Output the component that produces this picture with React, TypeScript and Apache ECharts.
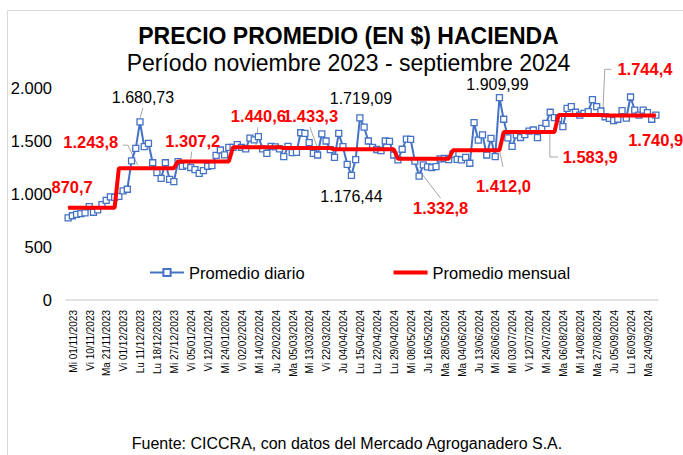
import React, { useEffect, useRef } from 'react';
import * as echarts from 'echarts';

const TITLE = 'PRECIO PROMEDIO (EN $) HACIENDA';
const SUBTITLE = 'Período noviembre 2023 - septiembre 2024';
const SOURCE = 'Fuente: CICCRA, con datos del Mercado Agroganadero S.A.';
const SERIES_DAILY = 'Promedio diario';
const SERIES_MONTHLY = 'Promedio mensual';

const dates: string[] = [
  'Mi 01/11/2023', 'Ju 02/11/2023', 'Lu 06/11/2023', 'Mi 08/11/2023', 'Vi 10/11/2023', 'Lu 13/11/2023', 'Mi 15/11/2023', 'Vi 17/11/2023',
  'Ma 21/11/2023', 'Ju 23/11/2023', 'Lu 27/11/2023', 'Mi 29/11/2023', 'Vi 01/12/2023', 'Lu 04/12/2023', 'Mi 06/12/2023', 'Ju 07/12/2023',
  'Lu 11/12/2023', 'Ma 12/12/2023', 'Mi 13/12/2023', 'Vi 15/12/2023', 'Lu 18/12/2023', 'Mi 20/12/2023', 'Vi 22/12/2023', 'Ma 26/12/2023',
  'Mi 27/12/2023', 'Ju 28/12/2023', 'Ma 02/01/2024', 'Mi 03/01/2024', 'Vi 05/01/2024', 'Lu 08/01/2024', 'Mi 10/01/2024', 'Ju 11/01/2024',
  'Vi 12/01/2024', 'Ma 16/01/2024', 'Ju 18/01/2024', 'Lu 22/01/2024', 'Mi 24/01/2024', 'Vi 26/01/2024', 'Ma 30/01/2024', 'Ju 01/02/2024',
  'Vi 02/02/2024', 'Ma 06/02/2024', 'Ju 08/02/2024', 'Vi 09/02/2024', 'Mi 14/02/2024', 'Vi 16/02/2024', 'Lu 19/02/2024', 'Mi 21/02/2024',
  'Ju 22/02/2024', 'Lu 26/02/2024', 'Mi 28/02/2024', 'Vi 01/03/2024', 'Ma 05/03/2024', 'Ju 07/03/2024', 'Vi 08/03/2024', 'Lu 11/03/2024',
  'Mi 13/03/2024', 'Vi 15/03/2024', 'Ma 19/03/2024', 'Ju 21/03/2024', 'Vi 22/03/2024', 'Ma 26/03/2024', 'Mi 27/03/2024', 'Mi 03/04/2024',
  'Ju 04/04/2024', 'Lu 08/04/2024', 'Mi 10/04/2024', 'Vi 12/04/2024', 'Lu 15/04/2024', 'Ma 16/04/2024', 'Mi 17/04/2024', 'Vi 19/04/2024',
  'Lu 22/04/2024', 'Ma 23/04/2024', 'Mi 24/04/2024', 'Vi 26/04/2024', 'Lu 29/04/2024', 'Ma 30/04/2024', 'Vi 03/05/2024', 'Lu 06/05/2024',
  'Mi 08/05/2024', 'Ju 09/05/2024', 'Lu 13/05/2024', 'Ma 14/05/2024', 'Ju 16/05/2024', 'Lu 20/05/2024', 'Mi 22/05/2024', 'Vi 24/05/2024',
  'Ma 28/05/2024', 'Mi 29/05/2024', 'Ju 30/05/2024', 'Lu 03/06/2024', 'Ma 04/06/2024', 'Mi 05/06/2024', 'Vi 07/06/2024', 'Ma 11/06/2024',
  'Ju 13/06/2024', 'Vi 14/06/2024', 'Ma 18/06/2024', 'Lu 24/06/2024', 'Mi 26/06/2024', 'Ju 27/06/2024', 'Vi 28/06/2024', 'Lu 01/07/2024',
  'Mi 03/07/2024', 'Ju 04/07/2024', 'Lu 08/07/2024', 'Mi 10/07/2024', 'Vi 12/07/2024', 'Ma 16/07/2024', 'Ju 18/07/2024', 'Lu 22/07/2024',
  'Mi 24/07/2024', 'Ju 25/07/2024', 'Lu 29/07/2024', 'Mi 31/07/2024', 'Ma 06/08/2024', 'Mi 07/08/2024', 'Vi 09/08/2024', 'Lu 12/08/2024',
  'Mi 14/08/2024', 'Vi 16/08/2024', 'Mi 21/08/2024', 'Vi 23/08/2024', 'Ma 27/08/2024', 'Mi 28/08/2024', 'Vi 30/08/2024', 'Ma 03/09/2024',
  'Ju 05/09/2024', 'Lu 09/09/2024', 'Mi 11/09/2024', 'Vi 13/09/2024', 'Lu 16/09/2024', 'Ma 17/09/2024', 'Ju 19/09/2024', 'Lu 23/09/2024',
  'Ma 24/09/2024', 'Mi 25/09/2024', 'Ju 26/09/2024', 'Vi 27/09/2024',
];

const dailyAvg: number[] = [
  // nov
  775, 795, 808, 815, 822, 880, 828, 850, 900, 940, 972, 968,
  // dic
  978, 1030, 1045, 1312, 1430, 1680.73, 1446, 1478, 1295, 1201, 1148, 1295, 1138, 1116,
  // ene
  1305, 1260, 1272, 1250, 1230, 1195, 1220, 1262, 1268, 1365, 1415, 1370, 1440,
  // feb
  1440, 1465, 1440, 1425, 1528, 1510, 1541, 1425, 1384, 1450, 1445, 1425,
  // mar
  1352, 1450, 1390, 1393, 1578, 1572, 1484, 1384, 1368, 1568, 1500, 1418,
  // abr
  1345, 1572, 1446, 1280, 1176.44, 1325, 1719.09, 1630, 1500, 1440, 1420, 1410, 1500, 1497, 1368,
  // may
  1321, 1422, 1518, 1516, 1310, 1168, 1274, 1255, 1250, 1258, 1332, 1335, 1325,
  // jun
  1375, 1327, 1321, 1346, 1290, 1673, 1509, 1557, 1368, 1525, 1352, 1909.99,
  // jul
  1705, 1530, 1450, 1557, 1533, 1560, 1594, 1604, 1531, 1620, 1667, 1771, 1720,
  // ago
  1714, 1635, 1808, 1824, 1771, 1745, 1760, 1777, 1890, 1824, 1783,
  // sep
  1729, 1714, 1692, 1705, 1786, 1715, 1915, 1792, 1745, 1792, 1767, 1705, 1745,
];

const monthKeys: string[] = ['11/2023', '12/2023', '01/2024', '02/2024', '03/2024', '04/2024', '05/2024', '06/2024', '07/2024', '08/2024', '09/2024'];
const monthlyAvg: number[] = [870.7, 1243.8, 1307.2, 1440.6, 1433.3, 1422.0, 1332.8, 1412.0, 1583.9, 1744.4, 1740.9];
const monthlyLabelShown: boolean[] = [true, true, true, true, true, false, true, true, true, true, true];

// days whose daily value is annotated (extremes)
const dailyLabelDays: string[] = ['Ma 12/12/2023', 'Vi 12/04/2024', 'Ma 16/04/2024', 'Vi 28/06/2024'];

const BLUE = '#4472C4';
const RED = '#FF0000';
const LEADER = '#A6A6A6';
const FONT = '"Liberation Sans", Arial, Helvetica, sans-serif';

// label placement (layout only): [dx, dy]
const DAILY_LABEL_LAYOUT: Record<string, [number, number]> = {
  'Ma 12/12/2023': [3, -24],
  'Vi 12/04/2024': [0, 21],
  'Ma 16/04/2024': [1, -19],
  'Vi 28/06/2024': [-2, -13],
};
// anchor day + [dx, dy] for each month label
const MONTHLY_LABEL_LAYOUT: Record<string, [string, number, number]> = {
  '11/2023': ['Mi 01/11/2023', 4, -21],
  '12/2023': ['Lu 11/12/2023', -45, -26],
  '01/2024': ['Lu 08/01/2024', 2, -20],
  '02/2024': ['Vi 16/02/2024', 0, -31],
  '03/2024': ['Ju 21/03/2024', -7, -32],
  '05/2024': ['Ju 09/05/2024', 30, 49],
  '06/2024': ['Vi 28/06/2024', 4, 36],
  '07/2024': ['Lu 29/07/2024', 40, 25],
  '08/2024': ['Vi 30/08/2024', 44, -46],
  '09/2024': ['Ju 26/09/2024', 4, 25],
};
// leader lines: series, anchor day, polyline offsets from the anchor point
const LEADERS: { series: 'daily' | 'monthly'; day: string; pts: number[][] }[] = [
  { series: 'daily', day: 'Ma 12/12/2023', pts: [[3, -14], [0, -4]] },
  { series: 'monthly', day: 'Lu 11/12/2023', pts: [[-13, -23], [-8, -23], [2, -3]] },
  { series: 'monthly', day: 'Lu 08/01/2024', pts: [[1, -10], [0, -2]] },
  { series: 'monthly', day: 'Vi 16/02/2024', pts: [[-0.5, -20], [-2.5, -2]] },
  { series: 'monthly', day: 'Ju 21/03/2024', pts: [[-7.7, -21], [-0.7, -2]] },
  { series: 'monthly', day: 'Ju 09/05/2024', pts: [[1, 2], [30, 39.5]] },
  { series: 'monthly', day: 'Vi 28/06/2024', pts: [[3.5, 16.5], [0.5, 2]] },
  { series: 'monthly', day: 'Lu 29/07/2024', pts: [[7.7, 24.9], [-0.3, 24.9], [-0.3, 2]] },
  { series: 'monthly', day: 'Vi 30/08/2024', pts: [[10.6, -45.8], [3.9, -45.8], [1.9, -2]] },
  { series: 'monthly', day: 'Ju 26/09/2024', pts: [[4.2, 6.2], [-1.8, 1.2]] },
];

function fmtEs(v: number, dec: number): string {
  const fixed = v.toFixed(dec);
  const parts = fixed.split('.');
  const intPart = parts[0].replace(/\B(?=(\d{3})+(?!\d))/g, '.');
  return parts.length > 1 ? intPart + ',' + parts[1] : intPart;
}

function monthlyValueOf(day: string): number {
  return monthlyAvg[monthKeys.indexOf(day.slice(-7))];
}

const BASE_GRAPHIC: any[] = [
  {
    type: 'rect',
    silent: true,
    z: -10,
    shape: { x: 7.5, y: 10.5, width: 720, height: 500 },
    style: { fill: 'none', stroke: '#D9D9D9', lineWidth: 1 },
  },
  {
    type: 'text',
    x: 348.5,
    y: 36,
    style: {
      text: TITLE,
      fill: '#000',
      font: `bold 23px ${FONT}`,
      textAlign: 'center',
      textVerticalAlign: 'middle',
    },
  },
  {
    type: 'text',
    x: 348.5,
    y: 63,
    style: {
      text: SUBTITLE,
      fill: '#000',
      font: `23px ${FONT}`,
      textAlign: 'center',
      textVerticalAlign: 'middle',
    },
  },
  {
    type: 'text',
    x: 347,
    y: 443,
    style: {
      text: SOURCE,
      fill: '#000',
      font: `16px ${FONT}`,
      textAlign: 'center',
      textVerticalAlign: 'middle',
    },
  },
];

function buildOption(): any {
  const dailyData = dailyAvg.map((v, i) => {
    const d = dates[i];
    if (dailyLabelDays.indexOf(d) < 0) return v;
    return {
      value: v,
      label: {
        show: true,
        position: 'inside',
        formatter: fmtEs(v, 2),
        color: '#000',
        fontSize: 16,
        fontFamily: FONT,
        textBorderWidth: 0,
      },
    };
  });

  const monthlyData = dates.map((d) => {
    const key = d.slice(-7);
    const m = monthKeys.indexOf(key);
    const v = monthlyAvg[m];
    const lay = MONTHLY_LABEL_LAYOUT[key];
    if (!monthlyLabelShown[m] || !lay || lay[0] !== d) return v;
    return {
      value: v,
      label: {
        show: true,
        position: 'inside',
        formatter: fmtEs(v, 1),
        color: RED,
        fontSize: 16.5,
        fontWeight: 'bold',
        fontFamily: FONT,
        textBorderWidth: 0,
      },
    };
  });

  return {
    animation: false,
    backgroundColor: '#fff',
    textStyle: { fontFamily: FONT },
    graphic: BASE_GRAPHIC,
    legend: {
      data: [
        { name: SERIES_DAILY },
        { name: SERIES_MONTHLY, icon: 'path://M0,0L34,0L34,4L0,4Z', itemStyle: { color: RED } },
      ],
      left: 149,
      top: 264,
      padding: 0,
      itemGap: 89,
      itemWidth: 34,
      itemHeight: 9,
      textStyle: { fontSize: 16.5, color: '#000', fontFamily: FONT },
    },
    grid: { left: 66, right: 25, top: 88, bottom: 155, containLabel: false },
    xAxis: {
      type: 'category',
      data: dates,
      boundaryGap: true,
      axisTick: { show: false },
      axisLine: { lineStyle: { color: '#D9D9D9', width: 1.5 } },
      axisLabel: {
        interval: 3,
        rotate: 90,
        fontSize: 10,
        color: '#000',
        fontFamily: FONT,
        margin: 10,
        verticalAlign: 'top',
      },
    },
    yAxis: {
      type: 'value',
      min: 0,
      max: 2000,
      interval: 500,
      axisLine: { show: false },
      axisTick: { show: false },
      splitLine: { show: false },
      axisLabel: {
        formatter: (v: number) => fmtEs(v, 0),
        fontSize: 16.5,
        color: '#000',
        fontFamily: FONT,
        margin: 14,
      },
    },
    series: [
      {
        name: SERIES_DAILY,
        type: 'line',
        data: dailyData,
        symbol: 'rect',
        symbolSize: 6,
        showAllSymbol: true,
        lineStyle: { color: BLUE, width: 2 },
        itemStyle: { color: '#fff', borderColor: BLUE, borderWidth: 1.3 },
        label: { show: false },
        labelLayout: (p: any) => {
          const lay = DAILY_LABEL_LAYOUT[dates[p.dataIndex]];
          return lay && dailyLabelDays.indexOf(dates[p.dataIndex]) >= 0 ? { dx: lay[0], dy: lay[1] } : {};
        },
        z: 2,
      },
      {
        name: SERIES_MONTHLY,
        type: 'line',
        data: monthlyData,
        symbol: 'circle',
        symbolSize: 1,
        showAllSymbol: true,
        lineStyle: { color: RED, width: 4 },
        itemStyle: { color: RED },
        label: { show: false },
        labelLayout: (p: any) => {
          const d = dates[p.dataIndex];
          const lay = MONTHLY_LABEL_LAYOUT[d.slice(-7)];
          return lay && lay[0] === d ? { dx: lay[1], dy: lay[2] } : {};
        },
        z: 3,
      },
    ],
  };
}

export default function App() {
  const ref = useRef<HTMLDivElement>(null);
  useEffect(() => {
    document.body.style.margin = '0';
    const chart = echarts.init(ref.current as HTMLDivElement, null, { renderer: 'svg' });
    chart.setOption(buildOption());
    const leaderEls = LEADERS.map((l) => {
      const idx = dates.indexOf(l.day);
      const val = l.series === 'daily' ? dailyAvg[idx] : monthlyValueOf(l.day);
      const p = chart.convertToPixel({ gridIndex: 0 }, [idx, val]) as number[];
      return {
        type: 'polyline',
        silent: true,
        z: 1,
        shape: { points: l.pts.map((o) => [p[0] + o[0], p[1] + o[1]]) },
        style: { stroke: LEADER, lineWidth: 1, fill: null },
      };
    });
    chart.setOption({ graphic: [...BASE_GRAPHIC, ...leaderEls] });
    return () => {
      chart.dispose();
    };
  }, []);
  return (
    <div
      ref={ref}
      style={{ position: 'absolute', left: 0, top: 0, width: 683, height: 455, background: '#fff' }}
    />
  );
}
